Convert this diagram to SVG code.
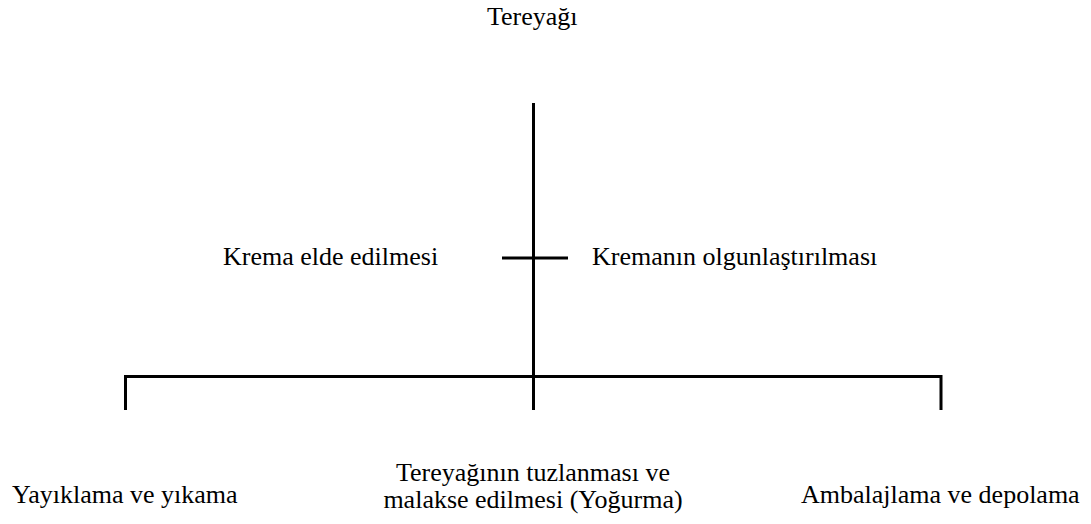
<svg xmlns="http://www.w3.org/2000/svg" width="1091" height="524" viewBox="0 0 1091 524">
<style>
text{font-family:'Liberation Serif','Times New Roman',serif;font-size:26px;fill:#000}
.c{text-anchor:middle}
.ln{stroke:#000;stroke-width:3;fill:none}
</style>
<rect width="1091" height="524" fill="#fff"/>
<g id="connectors">
<line class="ln" x1="533.5" y1="103" x2="533.5" y2="410"/>
<line class="ln" x1="502" y1="258" x2="568" y2="258"/>
<polyline class="ln" points="125.5,410 125.5,376.5 941,376.5 941,410"/>
</g>
<g id="n-tereyagi"><text x="487" y="25">Tereyağı</text></g>
<g id="n-krema"><text x="223" y="265">Krema elde edilmesi</text></g>
<g id="n-olgun"><text x="592" y="265">Kremanın olgunlaştırılması</text></g>
<g id="n-yayik"><text x="12" y="503">Yayıklama ve yıkama</text></g>
<g id="n-tuz"><text class="c" x="533" y="481">Tereyağının tuzlanması ve</text><text class="c" x="533" y="508">malakse edilmesi (Yoğurma)</text></g>
<g id="n-ambalaj"><text x="801" y="503">Ambalajlama ve depolama</text></g>
</svg>
